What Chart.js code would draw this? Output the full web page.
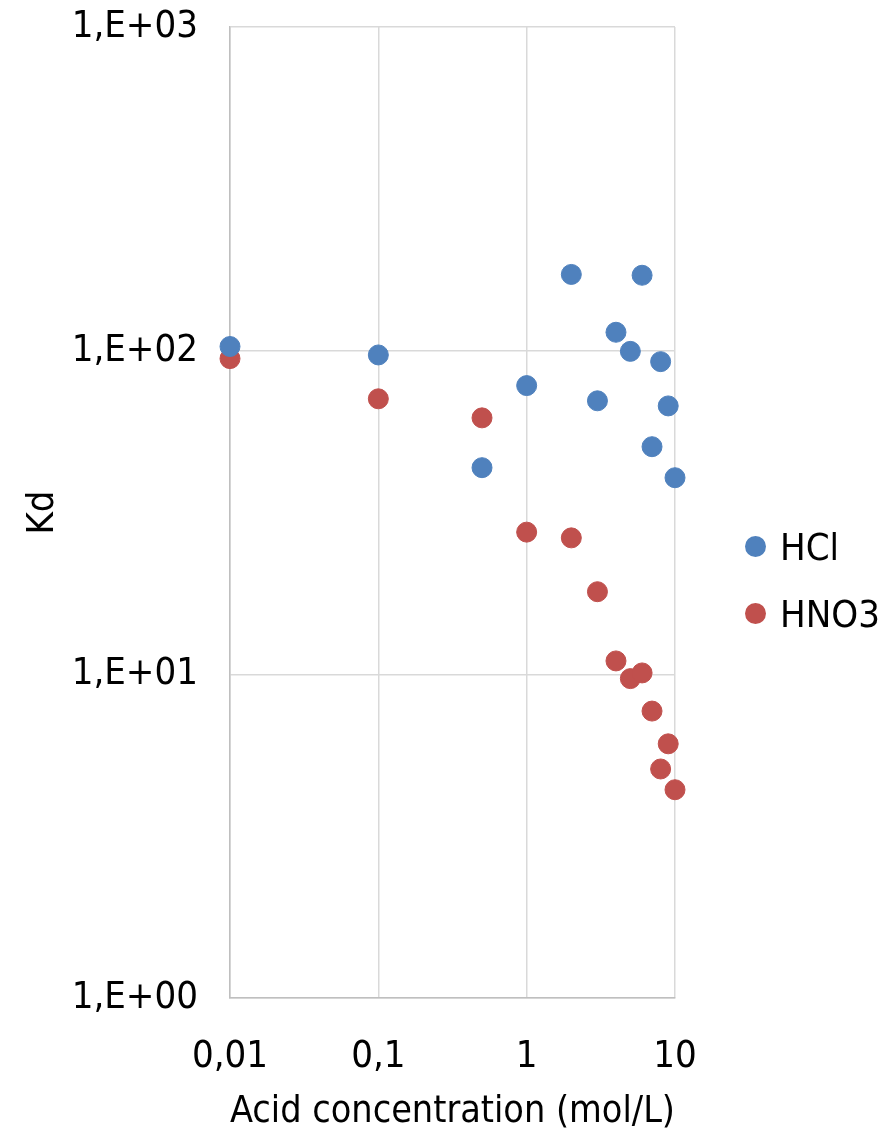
<!DOCTYPE html>
<html>
<head>
<meta charset="utf-8">
<script src="https://cdn.jsdelivr.net/npm/chart.js@4.4.1/dist/chart.umd.min.js"></script>
<style>
  html, body { margin: 0; padding: 0; background: #fff; }
  #wrap { position: relative; width: 887px; height: 1135px; }
  #legend { position: absolute; left: 745px; top: 513px; font-family: "Liberation Sans Narrow", "DejaVu Sans Condensed", sans-serif; font-size: 38px; color: #000; }
  #legend div { height: 67px; display: flex; align-items: center; }
  #legend span.dot { display: inline-block; width: 21px; height: 21px; border-radius: 50%; margin-right: 14px; }
</style>
</head>
<body>
<div id="wrap">
  <canvas id="chart" width="887" height="1135"></canvas>
  <div id="legend"></div>
</div>
<script>
// =====================
// DATA
// =====================
const concentrations = [0.01, 0.1, 0.5, 1, 2, 3, 4, 5, 6, 7, 8, 9, 10];
const hclKd  = [103, 97, 43.5, 78, 172, 70, 114, 99.5, 171, 50.5, 92.5, 67.5, 40.5];
const hno3Kd = [94.5, 71, 62, 27.5, 26.4, 18, 11, 9.7, 10.1, 7.7, 5.1, 6.1, 4.4];

const xTicks = [0.01, 0.1, 1, 10];
const xTickLabels = ["0,01", "0,1", "1", "10"];
const yTicks = [1, 10, 100, 1000];
const yTickLabels = ["1,E+00", "1,E+01", "1,E+02", "1,E+03"];

const seriesNames = ["HCl", "HNO3"];
const seriesColors = ["#4f81bd", "#c0504d"];

const FONT = "'Liberation Sans Narrow', 'DejaVu Sans Condensed', sans-serif";

function toPoints(values) {
  return concentrations.map((c, i) => ({ x: c, y: values[i] }));
}

// =====================
// CHART
// =====================
const chart = new Chart(document.getElementById("chart"), {
  type: "scatter",
  data: {
    datasets: [
      {
        label: seriesNames[0],
        data: toPoints(hclKd),
        backgroundColor: seriesColors[0],
        borderColor: seriesColors[0],
        pointRadius: 10,
        pointHoverRadius: 10,
        clip: false
      },
      {
        label: seriesNames[1],
        data: toPoints(hno3Kd),
        backgroundColor: seriesColors[1],
        borderColor: seriesColors[1],
        pointRadius: 10,
        pointHoverRadius: 10,
        clip: false
      }
    ]
  },
  options: {
    responsive: false,
    animation: false,
    layout: { padding: { top: 0, right: 212, left: 0, bottom: 0 } },
    plugins: {
      legend: { display: false },
      tooltip: { enabled: false }
    },
    scales: {
      x: {
        type: "logarithmic",
        min: 0.01,
        max: 10,
        afterBuildTicks: s => { s.ticks = xTicks.map(v => ({ value: v })); },
        afterFit: s => { s.height = 137; },
        ticks: {
          callback: (v) => xTickLabels[xTicks.indexOf(v)],
          color: "#000",
          font: { family: FONT, size: 38 },
          padding: 36,
          maxRotation: 0,
          autoSkip: false
        },
        grid: { color: "#d9d9d9", lineWidth: 1.5, drawTicks: false },
        border: { color: "#bfbfbf", width: 1.5 },
        title: {
          display: true,
          text: "Acid concentration (mol/L)",
          color: "#000",
          font: { family: FONT, size: 38 },
          padding: { top: 0, bottom: 0 }
        }
      },
      y: {
        type: "logarithmic",
        min: 1,
        max: 1000,
        afterBuildTicks: s => { s.ticks = yTicks.map(v => ({ value: v })); },
        afterFit: s => { s.width = 230; s.paddingTop = 27; s.paddingBottom = 0; },
        ticks: {
          callback: (v) => yTickLabels[yTicks.indexOf(v)],
          color: "#000",
          font: { family: FONT, size: 38 },
          padding: 32,
          autoSkip: false
        },
        grid: { color: "#d9d9d9", lineWidth: 1.5, drawTicks: false },
        border: { color: "#bfbfbf", width: 1.5 },
        title: {
          display: true,
          text: "Kd",
          color: "#000",
          font: { family: FONT, size: 38 },
          padding: { top: 20, bottom: 0 }
        }
      }
    }
  }
});

// =====================
// LEGEND
// =====================
const legend = document.getElementById("legend");
seriesNames.forEach((name, i) => {
  legend.innerHTML += `<div><span class="dot" style="background:${seriesColors[i]}"></span>${name}</div>`;
});
</script>
</body>
</html>
